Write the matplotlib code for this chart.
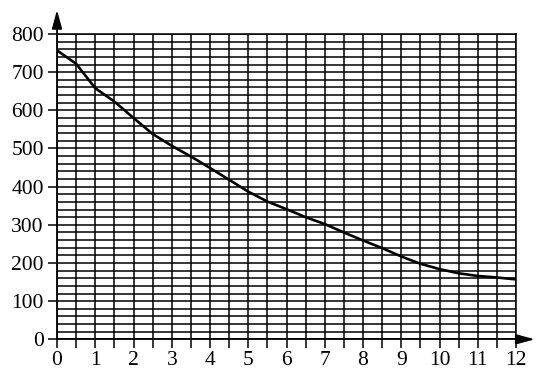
import matplotlib
matplotlib.use("Agg")
import matplotlib.pyplot as plt
from matplotlib.ticker import MultipleLocator

# data (every 0.5 on x)
x_vals = [0, 0.5, 1, 1.5, 2, 2.5, 3, 3.5, 4, 4.5, 5, 5.5, 6,
          6.5, 7, 7.5, 8, 8.5, 9, 9.5, 10, 10.5, 11, 11.5, 12]
y_vals = [757, 722, 658, 623, 580, 538, 507, 479, 449, 418, 387, 361, 341,
          320, 302, 280, 259, 239, 217, 198, 184, 173, 166, 162, 157]

x_ticks = list(range(0, 13))
y_ticks = list(range(0, 801, 100))

INK = "black"

plt.rcParams["font.family"] = ["Liberation Serif", "DejaVu Serif"]

fig = plt.figure(figsize=(5.45, 3.81), dpi=100)
ax = fig.add_axes([0.1046, 0.1094, 0.8422, 0.8014])

ax.set_xlim(0, 12)
ax.set_ylim(0, 800)

# grid: every 0.5 on x, every 20 on y
ax.xaxis.set_major_locator(MultipleLocator(1))
ax.xaxis.set_minor_locator(MultipleLocator(0.5))
ax.yaxis.set_major_locator(MultipleLocator(100))
ax.yaxis.set_minor_locator(MultipleLocator(20))
ax.grid(True, which="both", color=INK, linewidth=1.1)
ax.set_axisbelow(True)

ax.set_xticks(x_ticks)
ax.set_xticklabels([str(t) for t in x_ticks])
ax.set_yticks(y_ticks)
ax.set_yticklabels([str(t) for t in y_ticks])

ax.tick_params(axis="x", which="both", direction="out", length=6.5, width=1.1,
               color=INK, labelsize=15.5, pad=2)
ax.tick_params(axis="y", which="major", direction="out", length=6.5, width=1.1,
               color=INK, labelsize=15.5, pad=3)
ax.tick_params(axis="y", which="minor", length=0)

for side in ["top", "right"]:
    ax.spines[side].set_linewidth(1.1)
for side in ["left", "bottom"]:
    ax.spines[side].set_linewidth(1.3)

# curve
ax.plot(x_vals, y_vals, color=INK, linewidth=1.9, solid_joinstyle="round",
        zorder=5)

# axis arrows
head = "-|>,head_length=0.7,head_width=0.19"
ax.annotate("", xy=(0, 1.079), xytext=(0, 1.0), xycoords="axes fraction",
            arrowprops=dict(arrowstyle=head, color=INK, lw=1.3,
                            mutation_scale=16, shrinkA=0, shrinkB=0),
            annotation_clip=False)
ax.annotate("", xy=(1.041, 0), xytext=(1.0, 0), xycoords="axes fraction",
            arrowprops=dict(arrowstyle=head, color=INK, lw=1.3,
                            mutation_scale=16, shrinkA=0, shrinkB=0),
            annotation_clip=False)

fig.savefig("out.png", dpi=100)
